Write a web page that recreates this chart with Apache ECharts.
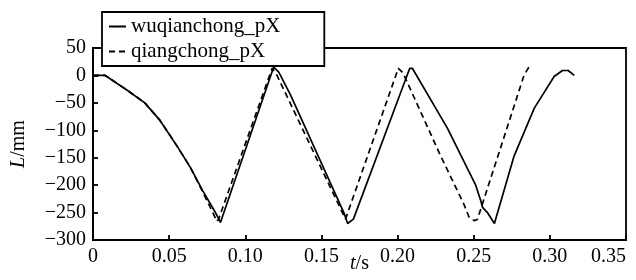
<!DOCTYPE html>
<html>
<head>
<meta charset="utf-8">
<script src="https://cdn.jsdelivr.net/npm/echarts@6/dist/echarts.min.js"></script>
<style>
html,body{margin:0;padding:0;background:#fff;}
#chart{width:636px;height:280px;}
</style>
</head>
<body>
<div id="chart"></div>
<script>
// series names
var seriesNames = ['wuqianchong_pX', 'qiangchong_pX'];

// solid series: wuqianchong_pX
var tSolid = [0, 0.008, 0.022, 0.034, 0.044, 0.055, 0.064, 0.072, 0.080, 0.0837,
  0.1186, 0.122, 0.1296, 0.165, 0.1672, 0.171,
  0.208, 0.2097, 0.2327, 0.2513, 0.2546, 0.2557, 0.259, 0.2636,
  0.2765, 0.2897, 0.3028, 0.3083, 0.312, 0.316];
var lSolid = [0, 0, -26, -50, -82, -128, -168, -210, -248, -268,
  15, 6, -35, -252, -270, -262,
  13, 13, -96, -200, -228, -240, -250, -270,
  -147, -60, -2, 9, 9, 0];

// dashed series: qiangchong_pX
var tDashed = [0, 0.008, 0.022, 0.034, 0.044, 0.055, 0.064, 0.072, 0.079, 0.0814, 0.0825,
  0.1176, 0.1205, 0.1658,
  0.2005, 0.2035, 0.228, 0.2436, 0.2469, 0.2505, 0.2525,
  0.283, 0.2864];
var lDashed = [0, 0, -26, -50, -82, -128, -168, -212, -252, -266, -262,
  13, 2, -262,
  13, 5, -145, -235, -258, -265, -262,
  0, 16];

// axis ticks
var xMin = 0, xMax = 0.35, xStep = 0.05;
var yMin = -300, yMax = 50, yStep = 50;

function pairs(t, v) { return t.map(function (x, i) { return [x, v[i]]; }); }

var FONT = 'Liberation Serif';
var chart = echarts.init(document.getElementById('chart'), null, {renderer: 'canvas'});
chart.setOption({
  animation: false,
  backgroundColor: '#fff',
  grid: {left: 93, right: 10, top: 48, bottom: 40, containLabel: false, outerBoundsMode: 'none',
    show: true, borderColor: '#000', borderWidth: 1.8, backgroundColor: 'transparent'},
  legend: {
    orient: 'vertical', left: 102, top: 12,
    backgroundColor: '#fff', borderColor: '#000', borderWidth: 1.8,
    padding: [4, 44, 4, 6], itemGap: 4, itemWidth: 17, itemHeight: 12,
    itemStyle: {color: 'transparent', borderWidth: 0, opacity: 0},
    textStyle: {fontFamily: FONT, fontSize: 21, color: '#000'},
    data: seriesNames
  },
  xAxis: {
    type: 'value', min: xMin, max: xMax, interval: xStep,
    name: '{i|t}/s', nameLocation: 'middle', nameGap: 14, nameMoveOverlap: false,
    nameTextStyle: {fontFamily: FONT, fontSize: 20, color: '#000', rich: {i: {fontFamily: FONT, fontStyle: 'italic', fontSize: 20, color: '#000'}}},
    axisLine: {onZero: false, lineStyle: {color: '#000', width: 1.8}},
    axisTick: {inside: true, length: 5, lineStyle: {color: '#000', width: 1.8}},
    splitLine: {show: false},
    axisLabel: {fontFamily: FONT, fontSize: 20, color: '#000', margin: 7, alignMaxLabel: 'right',
      formatter: function (v) { return v === 0 ? '0' : v.toFixed(2); }}
  },
  yAxis: {
    type: 'value', min: yMin, max: yMax, interval: yStep,
    name: '{i|L}/mm', nameLocation: 'middle', nameGap: 64, nameRotate: 90, nameMoveOverlap: false,
    nameTextStyle: {fontFamily: FONT, fontSize: 20, color: '#000', rich: {i: {fontFamily: FONT, fontStyle: 'italic', fontSize: 20, color: '#000'}}},
    axisLine: {onZero: false, lineStyle: {color: '#000', width: 1.8}},
    axisTick: {inside: true, length: 5, lineStyle: {color: '#000', width: 1.8}},
    splitLine: {show: false},
    axisLabel: {fontFamily: FONT, fontSize: 20, color: '#000', margin: 7,
      formatter: function (v) { return v < 0 ? '\u2212' + Math.abs(v) : String(v); }}
  },
  series: [
    {name: seriesNames[0], type: 'line', symbol: 'none', data: pairs(tSolid, lSolid),
      lineStyle: {color: '#000', width: 1.7, type: 'solid'}, itemStyle: {color: '#000'}},
    {name: seriesNames[1], type: 'line', symbol: 'none', data: pairs(tDashed, lDashed),
      lineStyle: {color: '#000', width: 1.7, type: [6, 4]}, itemStyle: {color: '#000'}}
  ]
});
</script>
</body>
</html>
